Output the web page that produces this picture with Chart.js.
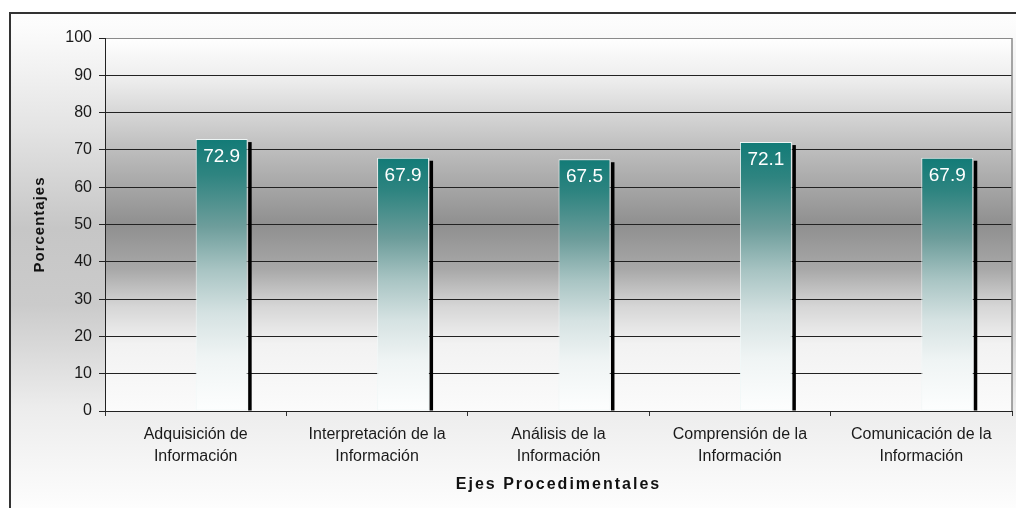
<!DOCTYPE html>
<html>
<head>
<meta charset="utf-8">
<script src="https://cdn.jsdelivr.net/npm/chart.js@4.4.0/dist/chart.umd.min.js"></script>
<style>
  html, body { margin: 0; padding: 0; background: #fff; }
  #wrap { width: 1016px; height: 508px; }
</style>
</head>
<body>
<div id="wrap"><canvas id="chart" width="1016" height="508"></canvas></div>
<script>
// data
const categories = [
  ['Adquisición de', 'Información'],
  ['Interpretación de la', 'Información'],
  ['Análisis de la', 'Información'],
  ['Comprensión de la', 'Información'],
  ['Comunicación de la', 'Información']
];
const percentages = [72.9, 67.9, 67.5, 72.1, 67.9];
const spacer = [null, null, null, null, null]; // empty slot left of each bar
const yTickValues = [0, 10, 20, 30, 40, 50, 60, 70, 80, 90, 100];

Chart.defaults.font.family = '"Liberation Sans", Arial, sans-serif';
Chart.defaults.color = '#1a1a1a';

// teal fading to white, per bar
function barFill(ctx) {
  const chart = ctx.chart;
  if (!chart.chartArea || ctx.type !== 'data') return '#2a8580';
  const y = chart.scales.y;
  const top = y.getPixelForValue(percentages[ctx.dataIndex]);
  const base = y.getPixelForValue(0);
  const g = chart.ctx.createLinearGradient(0, top, 0, base);
  g.addColorStop(0, '#127b77');
  g.addColorStop(0.13, '#2e8480');
  g.addColorStop(0.32, '#6d9d9b');
  g.addColorStop(0.48, '#a8c4c3');
  g.addColorStop(0.64, '#d5e2e2');
  g.addColorStop(0.8, '#eff4f4');
  g.addColorStop(1, '#fdfefe');
  return g;
}

// backgrounds: outer frame + plot area
const backdrop = {
  id: 'backdrop',
  beforeDraw(chart) {
    const c = chart.ctx, a = chart.chartArea;
    c.save();
    let g = c.createLinearGradient(0, 0, 0, chart.height);
    g.addColorStop(0, '#ffffff');
    g.addColorStop(0.05, '#fcfcfc');
    g.addColorStop(0.25, '#e4e4e4');
    g.addColorStop(0.45, '#c6c6c6');
    g.addColorStop(0.6, '#cbcbcb');
    g.addColorStop(0.8, '#ececec');
    g.addColorStop(1, '#fdfdfd');
    c.fillStyle = g;
    c.fillRect(10, 13, chart.width - 10, chart.height - 13);
    c.strokeStyle = '#333';
    c.lineWidth = 2;
    c.beginPath();
    c.moveTo(10, chart.height);
    c.lineTo(10, 13);
    c.lineTo(chart.width, 13);
    c.stroke();

    g = c.createLinearGradient(0, a.top, 0, a.bottom);
    g.addColorStop(0, '#ffffff');
    g.addColorStop(0.12, '#ebebeb');
    g.addColorStop(0.3, '#bdbdbd');
    g.addColorStop(0.5, '#8f8f8f');
    g.addColorStop(0.62, '#a8a8a8');
    g.addColorStop(0.72, '#d6d6d6');
    g.addColorStop(0.82, '#f2f2f2');
    g.addColorStop(1, '#fbfbfb');
    c.fillStyle = g;
    c.fillRect(a.left, a.top, a.right - a.left, a.bottom - a.top);
    c.restore();

    // spaced axis titles
    [['x', '2px'], ['y', '1px']].forEach(([id, sp]) => {
      const s = chart.scales[id];
      if (s._spaced) return;
      const orig = s.drawTitle.bind(s);
      s.drawTitle = function () {
        const cx = this.ctx;
        cx.save();
        cx.letterSpacing = sp;
        orig();
        cx.restore();
      };
      s._spaced = true;
    });
  },
  beforeDatasetsDraw(chart) {
    const c = chart.ctx, a = chart.chartArea;
    c.save();
    c.strokeStyle = '#8a8a8a';
    c.lineWidth = 1.5;
    c.beginPath();
    c.moveTo(a.right, a.top);
    c.lineTo(a.right, a.bottom);
    c.stroke();
    c.restore();
  }
};

// drop shadow on the right + value label inside the top of each bar
const barDecor = {
  id: 'barDecor',
  afterDatasetsDraw(chart) {
    const c = chart.ctx;
    const meta = chart.getDatasetMeta(1);
    c.save();
    meta.data.forEach((bar, i) => {
      const p = bar.getProps(['x', 'y', 'base', 'width'], true);
      const right = p.x + p.width / 2;
      c.fillStyle = '#000';
      c.fillRect(right + 0.5, p.y + 3, 3.5, p.base - p.y - 3);
      c.fillStyle = '#fff';
      c.font = '19px "Liberation Sans", Arial, sans-serif';
      c.textAlign = 'center';
      c.textBaseline = 'middle';
      c.fillText(percentages[i].toFixed(1), p.x, p.y + 18);
    });
    c.restore();
  }
};

new Chart(document.getElementById('chart'), {
  type: 'bar',
  data: {
    labels: categories,
    datasets: [
      { label: '', data: spacer, categoryPercentage: 0.573, barPercentage: 1 },
      {
        label: 'Porcentajes',
        data: percentages,
        backgroundColor: barFill,
        borderColor: 'rgba(240,248,248,0.95)',
        borderWidth: 1,
        borderSkipped: false,
        categoryPercentage: 0.573,
        barPercentage: 1
      }
    ]
  },
  options: {
    responsive: false,
    animation: false,
    devicePixelRatio: 1,
    layout: { padding: { left: 10, top: 38, right: 4, bottom: 0 } },
    plugins: { legend: { display: false }, tooltip: { enabled: false } },
    scales: {
      x: {
        grid: { offset: true, drawOnChartArea: false, tickLength: 5, color: '#333' },
        border: { color: '#222', width: 1 },
        ticks: {
          font: { size: 16, lineHeight: 1.375 },
          color: '#1a1a1a',
          padding: 8,
          maxRotation: 0,
          autoSkip: false
        },
        title: {
          display: true,
          text: 'Ejes Procedimentales',
          font: { size: 16, weight: 'bold' },
          color: '#111',
          padding: { top: 0, bottom: 14 }
        },
        afterFit(s) { s.height = 97; }
      },
      y: {
        min: 0,
        max: 100,
        afterBuildTicks(s) { s.ticks = yTickValues.map(v => ({ value: v })); },
        grid: {
          color: ctx => (ctx.tick && ctx.tick.value === 100 ? '#8a8a8a' : '#222'),
          tickColor: '#222',
          tickLength: 6
        },
        border: { color: '#222', width: 1 },
        ticks: { font: { size: 16 }, color: '#1a1a1a', padding: 7 },
        title: {
          display: true,
          text: 'Porcentajes',
          font: { size: 15, weight: 'bold' },
          color: '#111',
          padding: { top: 21, bottom: 0 }
        },
        afterFit(s) { s.width = 95; }
      }
    }
  },
  plugins: [backdrop, barDecor]
});
</script>
</body>
</html>
